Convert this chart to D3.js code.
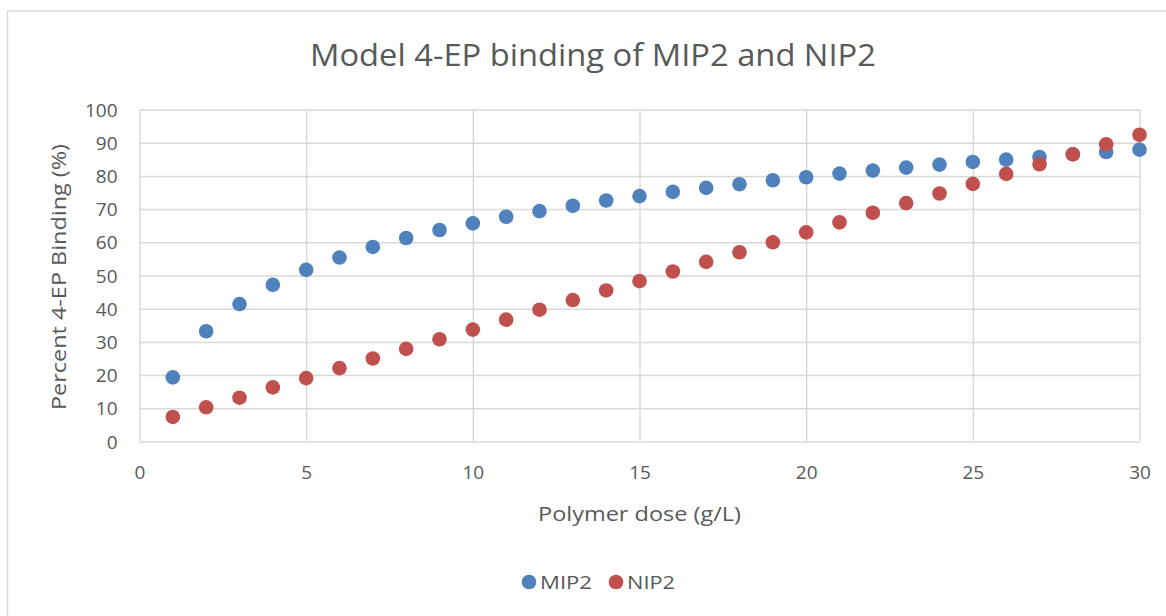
<!DOCTYPE html>
<html>
<head>
<meta charset="utf-8">
<script src="https://cdn.jsdelivr.net/npm/d3@7"></script>
<style>
  html, body { margin: 0; padding: 0; background: #fff; }
  svg { display: block; font-family: "Open Sans", "Liberation Sans", sans-serif; }
</style>
</head>
<body>
<svg id="chart" width="1166" height="616"></svg>
<script>
const doses = [1,2,3,4,5,6,7,8,9,10,11,12,13,14,15,16,17,18,19,20,21,22,23,24,25,26,27,28,29,30];
const mip2 = [19.3,33.2,41.4,47.2,51.7,55.4,58.6,61.3,63.7,65.7,67.7,69.4,71.0,72.6,73.9,75.2,76.4,77.5,78.7,79.6,80.7,81.6,82.5,83.4,84.2,84.9,85.7,86.5,87.2,87.9];
const nip2 = [7.4,10.3,13.2,16.3,19.1,22.1,25.0,27.9,30.8,33.7,36.7,39.7,42.6,45.5,48.3,51.2,54.1,57.0,60.0,63.0,66.0,68.9,71.8,74.7,77.6,80.6,83.5,86.5,89.5,92.4];
const xTicks = [0,5,10,15,20,25,30];
const yTicks = [0,10,20,30,40,50,60,70,80,90,100];
const seriesNames = ["MIP2","NIP2"];
const seriesColors = ["#4f81bd","#c0504d"];

const svg = d3.select("#chart");
const textColor = "#595959";
const gridColor = "#d9d9d9";

// outer chart border
svg.append("rect").attr("x",7.5).attr("y",11).attr("width",1170).attr("height",620)
  .attr("fill","none").attr("stroke",gridColor).attr("stroke-width",1.5);

const plot = {left:139.5, right:1139.5, top:109.5, bottom:441.5};
const x = d3.scaleLinear().domain([0,30]).range([plot.left, plot.right]);
const y = d3.scaleLinear().domain([0,100]).range([plot.bottom, plot.top]);

// horizontal gridlines
const gy = svg.append("g").attr("transform",`translate(${plot.left},0)`)
  .call(d3.axisLeft(y).tickValues(yTicks).tickSize(-(plot.right-plot.left)).tickFormat(""));
gy.select(".domain").remove();
gy.selectAll("line").attr("stroke",gridColor).attr("stroke-width",1.5);

// vertical gridlines
const gx = svg.append("g").attr("transform",`translate(0,${plot.bottom})`)
  .call(d3.axisBottom(x).tickValues(xTicks).tickSize(-(plot.bottom-plot.top)).tickFormat(""));
gx.select(".domain").remove();
gx.selectAll("line").attr("stroke",gridColor).attr("stroke-width",1.5);

// y tick labels
const yl = svg.append("g").attr("transform",`translate(${plot.left - 22},0)`)
  .call(d3.axisLeft(y).tickValues(yTicks).tickSize(0).tickPadding(0));
yl.select(".domain").remove();
yl.selectAll("text").attr("fill",textColor).style("font-size","19px")
  .style("font-family",'"Open Sans", sans-serif').attr("dy","0.35em");

// x tick labels
const xl = svg.append("g").attr("transform",`translate(0,${plot.bottom + 24})`)
  .call(d3.axisBottom(x).tickValues(xTicks).tickSize(0).tickPadding(0));
xl.select(".domain").remove();
xl.selectAll("text").attr("fill",textColor).style("font-size","19px")
  .style("font-family",'"Open Sans", sans-serif').attr("dy","0.71em");

// points
const seriesData = [mip2, nip2];
seriesData.forEach((vals, si) => {
  svg.append("g").selectAll("circle")
    .data(doses.map((d,i)=>({x:d, y:vals[i]})))
    .join("circle")
    .attr("cx", d=>x(d.x)).attr("cy", d=>y(d.y)).attr("r",7.3)
    .attr("fill", seriesColors[si]);
});

// title
svg.append("text").attr("x",593).attr("y",66).attr("text-anchor","middle")
  .attr("fill",textColor).style("font-size","31px")
  .attr("textLength",566).attr("lengthAdjust","spacingAndGlyphs")
  .text("Model 4-EP binding of MIP2 and NIP2");

// x axis title
svg.append("text").attr("x",639.5).attr("y",521).attr("text-anchor","middle")
  .attr("fill",textColor).style("font-size","20px")
  .attr("textLength",203).attr("lengthAdjust","spacingAndGlyphs")
  .text("Polymer dose (g/L)");

// y axis title
svg.append("text").attr("transform","translate(66,277) rotate(-90)").attr("text-anchor","middle")
  .attr("fill",textColor).style("font-size","20px")
  .attr("textLength",266).attr("lengthAdjust","spacingAndGlyphs")
  .text("Percent 4-EP Binding (%)");

// legend
const legendItems = [{name:seriesNames[0], color:seriesColors[0], cx:529, tx:540, w:52},
                     {name:seriesNames[1], color:seriesColors[1], cx:616, tx:627, w:48}];
const lg = svg.append("g");
legendItems.forEach(it => {
  lg.append("circle").attr("cx",it.cx).attr("cy",582).attr("r",7.3).attr("fill",it.color);
  lg.append("text").attr("x",it.tx).attr("y",589).attr("fill",textColor).style("font-size","19px")
    .attr("textLength",it.w).attr("lengthAdjust","spacingAndGlyphs").text(it.name);
});
</script>
</body>
</html>
